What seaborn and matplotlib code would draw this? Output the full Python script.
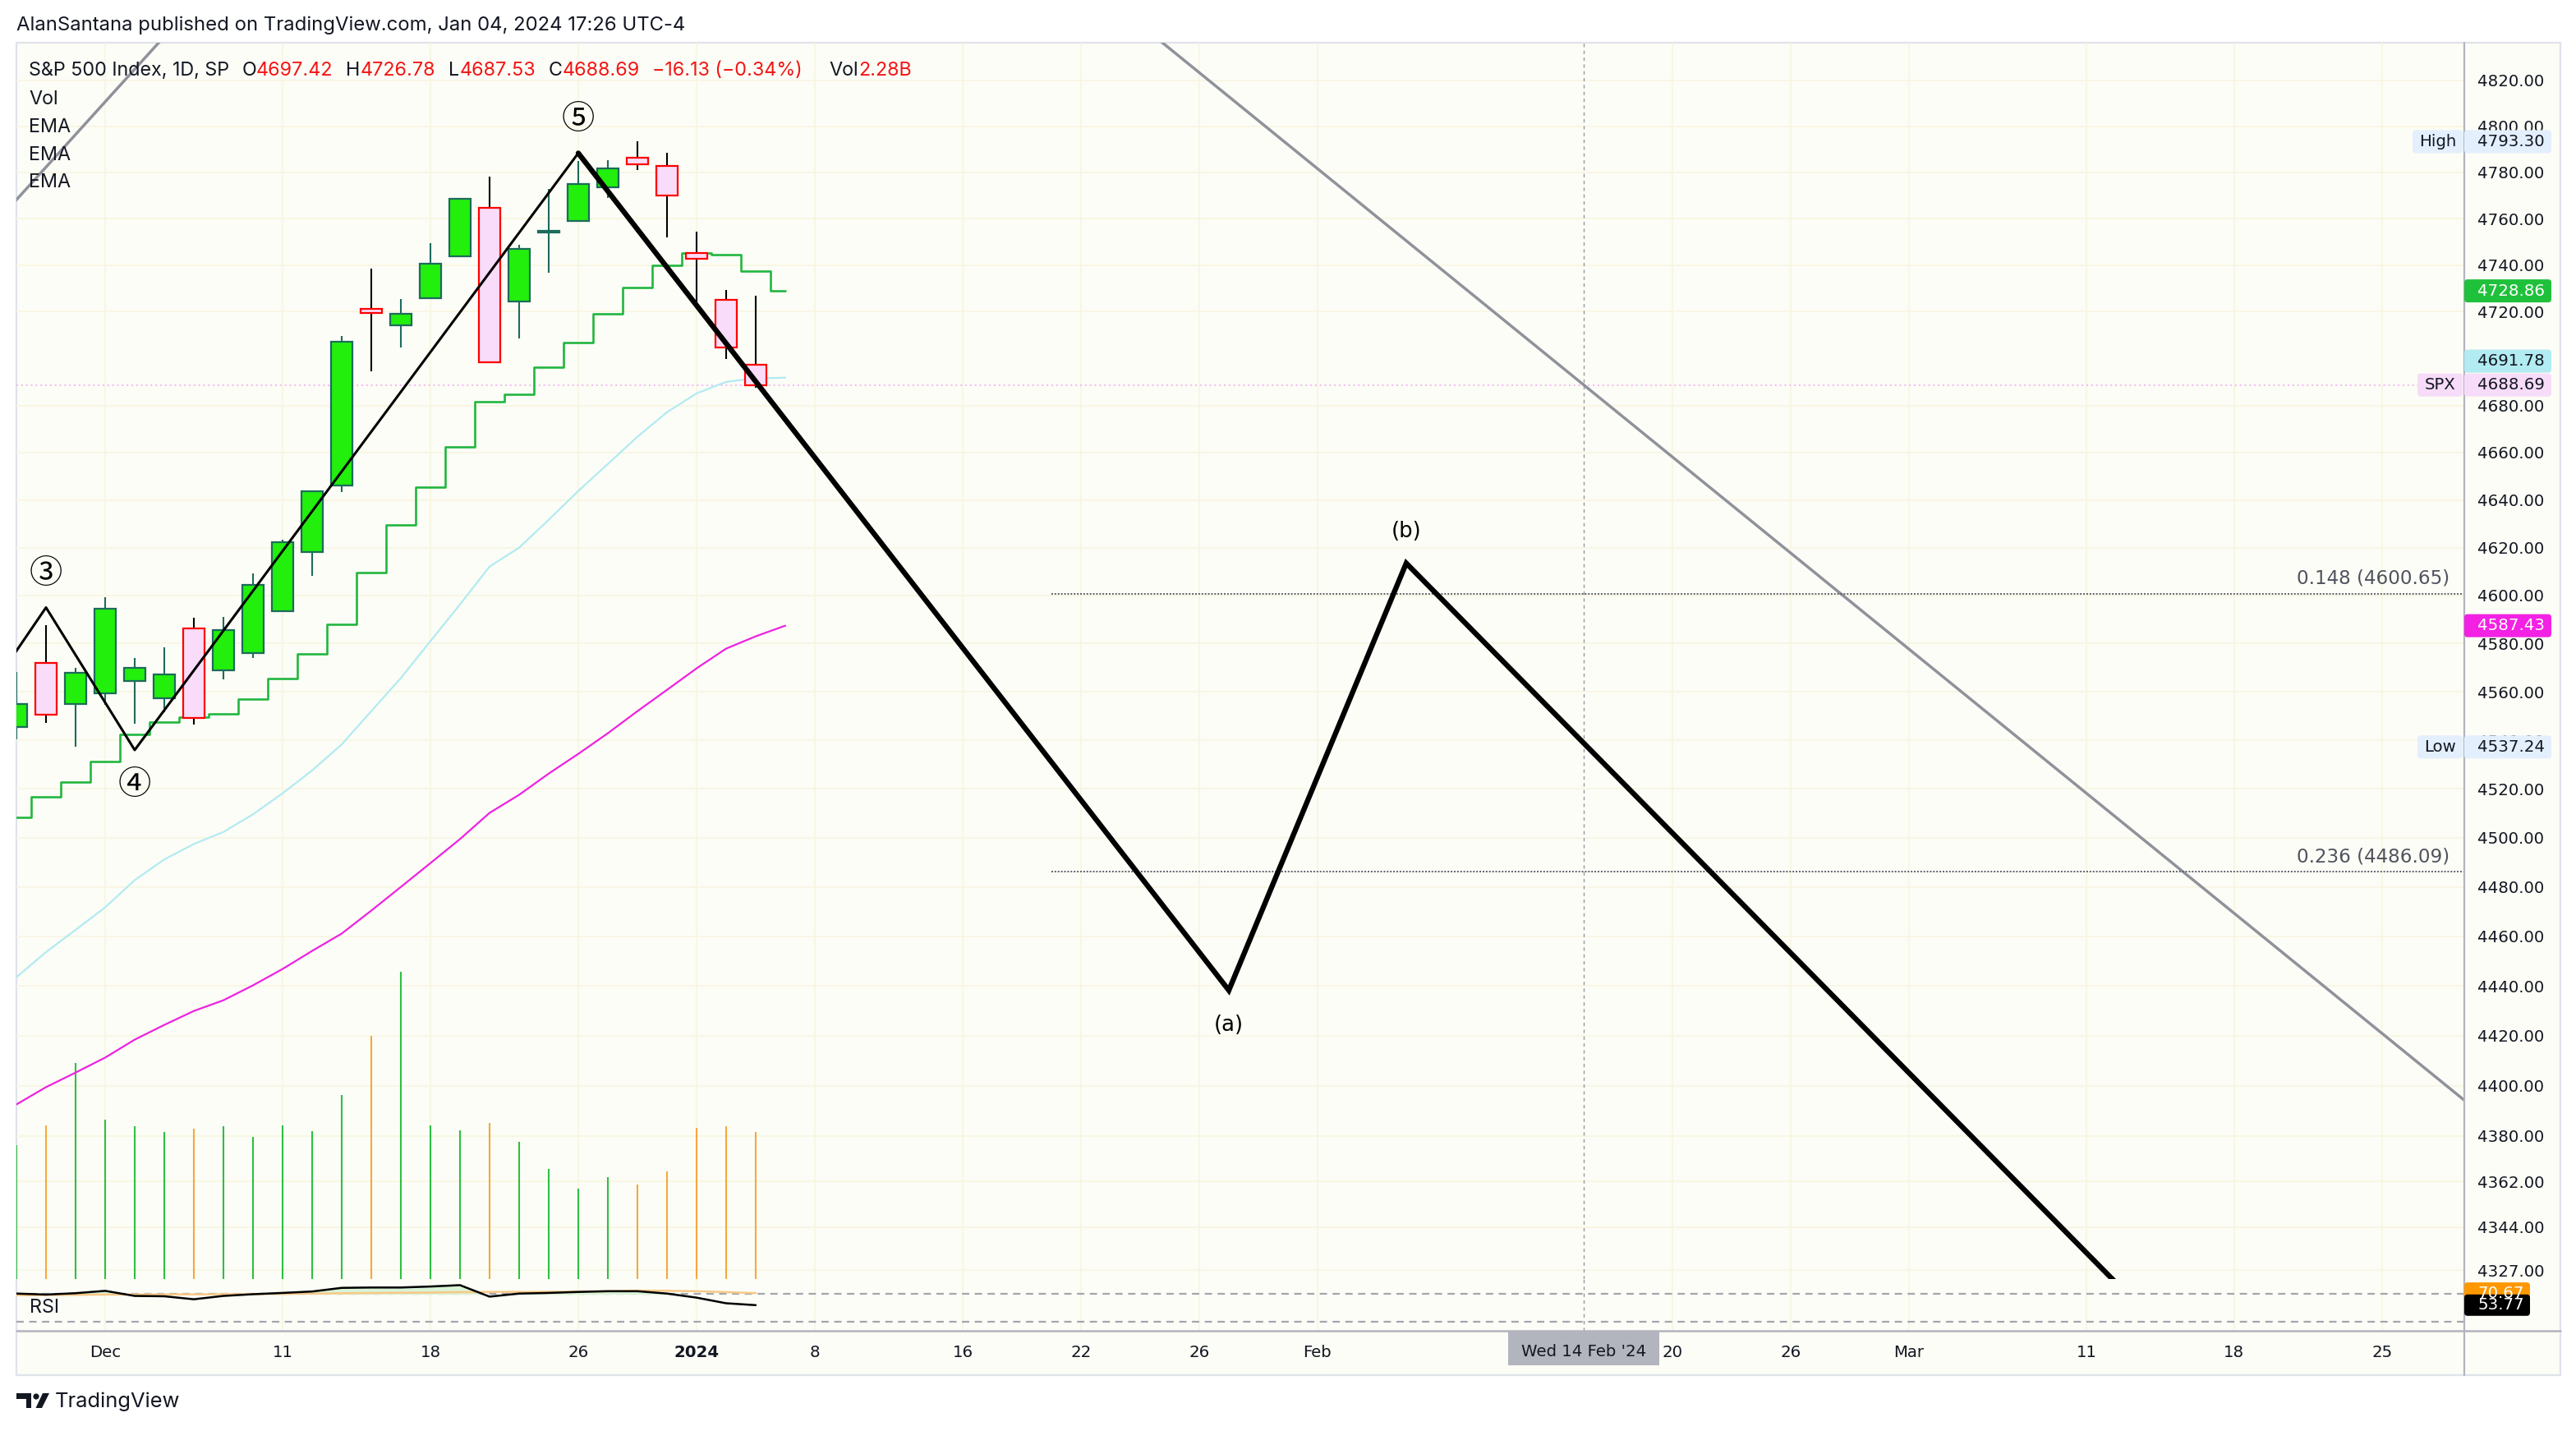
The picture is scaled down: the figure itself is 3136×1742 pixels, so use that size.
import numpy as np
import pandas as pd
import matplotlib
matplotlib.use('Agg')
import matplotlib.pyplot as plt
import matplotlib.transforms as mtrans
from matplotlib.patches import FancyBboxPatch, Rectangle, Polygon, Circle
from matplotlib.ticker import FixedLocator, FuncFormatter, NullLocator
import seaborn as sns

sns.set_style('white')
plt.rcParams['font.family'] = ['DejaVu Sans']

# ---------------- data ----------------
candle_dates = ['2023-11-28', '2023-11-29', '2023-11-30', '2023-12-01', '2023-12-04', '2023-12-05',
                '2023-12-06', '2023-12-07', '2023-12-08', '2023-12-11', '2023-12-12', '2023-12-13',
                '2023-12-14', '2023-12-15', '2023-12-18', '2023-12-19', '2023-12-20', '2023-12-21',
                '2023-12-22', '2023-12-26', '2023-12-27', '2023-12-28', '2023-12-29', '2024-01-02',
                '2024-01-03', '2024-01-04']
opens = [4545.55, 4571.84, 4554.87, 4559.43, 4564.37, 4557.25, 4586.23, 4568.84, 4576.20, 4593.39,
         4618.30, 4646.20, 4721.04, 4714.23, 4725.58, 4743.72, 4764.73, 4724.29, 4753.92, 4758.86,
         4773.45, 4786.44, 4782.88, 4745.20, 4725.07, 4697.42]
highs = [4568.14, 4587.64, 4569.89, 4599.39, 4574.06, 4578.56, 4590.74, 4590.92, 4609.23, 4623.18,
         4643.93, 4709.69, 4738.57, 4725.53, 4749.52, 4768.69, 4778.01, 4748.71, 4772.94, 4784.72,
         4785.39, 4793.30, 4788.43, 4754.33, 4729.29, 4726.78]
lows = [4540.51, 4547.15, 4537.24, 4554.71, 4546.72, 4551.68, 4546.50, 4565.22, 4574.06, 4593.39,
        4608.09, 4643.23, 4694.34, 4704.68, 4725.58, 4743.72, 4697.82, 4708.35, 4736.77, 4758.45,
        4768.90, 4780.98, 4751.99, 4722.67, 4699.71, 4687.53]
closes = [4554.89, 4550.58, 4567.80, 4594.63, 4569.78, 4567.18, 4549.34, 4585.59, 4604.37, 4622.44,
          4643.70, 4707.09, 4719.55, 4719.19, 4740.56, 4768.37, 4698.35, 4746.75, 4754.63, 4774.75,
          4781.58, 4783.35, 4769.83, 4742.83, 4704.81, 4688.69]
# volume in billions
volumes = [2.07, 2.38, 3.35, 2.47, 2.37, 2.28, 2.33, 2.37, 2.20, 2.38, 2.29, 2.85, 3.77, 4.77,
           2.38, 2.31, 2.42, 2.13, 1.71, 1.40, 1.58, 1.46, 1.67, 2.34, 2.37, 2.28]
last_change = -16.13
last_change_pct = -0.34

# EMAs are drawn with a one bar offset, so they carry one extra value (Jan 05)
ema_step = [4508.5, 4516.8, 4522.9, 4531.1, 4542.3, 4547.5, 4549.5, 4551.0, 4557.0, 4565.5,
            4575.6, 4588.0, 4609.6, 4629.4, 4645.6, 4662.6, 4681.6, 4684.8, 4696.1, 4706.6,
            4719.0, 4730.3, 4739.8, 4745.0, 4744.5, 4737.3, 4728.86]
ema_blue = [4443.5, 4453.6, 4462.6, 4471.7, 4482.8, 4491.2, 4497.5, 4502.4, 4509.6, 4518.2,
            4527.6, 4538.3, 4552.0, 4565.7, 4581.0, 4596.3, 4612.1, 4620.0, 4631.7, 4643.8,
            4655.2, 4666.7, 4677.1, 4685.1, 4690.0, 4691.5, 4691.78]
ema_pink = [4392.5, 4399.4, 4405.2, 4411.2, 4418.4, 4424.3, 4429.9, 4434.2, 4440.2, 4446.8,
            4454.1, 4461.1, 4470.4, 4480.0, 4489.7, 4499.5, 4510.2, 4517.6, 4526.3, 4534.4,
            4542.9, 4552.0, 4560.8, 4569.7, 4577.9, 4583.0, 4587.43]

rsi = [70.0, 68.6, 70.5, 73.8, 66.7, 66.2, 62.0, 66.7, 69.1, 70.9, 72.9, 78.0, 78.5, 78.5,
       79.9, 81.8, 65.7, 70.0, 70.9, 72.3, 73.3, 73.3, 70.0, 64.3, 56.4, 53.77]
rsi_ma = [67.7, 67.9, 68.2, 68.6, 68.7, 68.8, 68.9, 69.1, 69.3, 69.6, 70.0, 70.4, 70.8, 71.1,
          71.4, 72.0, 72.3, 72.3, 72.5, 72.8, 73.3, 74.2, 73.9, 73.3, 72.0, 70.67]

# elliott wave drawing
wave_dates = ['2023-11-27', '2023-11-29', '2023-12-04', '2023-12-26']
wave_prices = [4559.0, 4595.0, 4536.0, 4788.3]
wave_labels = ['③', '④', '⑤']
abc_dates = ['2023-12-26', '2024-01-29', '2024-02-06', '2024-03-18']
abc_prices = [4788.3, 4438.2, 4613.5, 4275.3]
abc_labels = ['(a)', '(b)']
# grey trend lines (bar offsets from the last candle, price)
grey_bars = [-26, -5.8, 57.8]
grey_prices = [4754.0, 5047.0, 4394.0]

fib_start = '2024-01-19'
fib_ratios = [0.148, 0.236]
fib_prices = [4600.65, 4486.09]

cross_date = '2024-02-14'

price_ticks = [4820, 4800, 4780, 4760, 4740, 4720, 4680, 4660, 4640, 4620, 4600, 4580, 4560,
               4540, 4520, 4500, 4480, 4460, 4440, 4420, 4400, 4380, 4362, 4344, 4327]
time_tick_dates = ['2023-12-01', '2023-12-11', '2023-12-18', '2023-12-26', '2024-01-02', '2024-01-08',
                   '2024-01-16', '2024-01-22', '2024-01-26', '2024-02-01', '2024-02-20', '2024-02-26',
                   '2024-03-01', '2024-03-11', '2024-03-18', '2024-03-25']
time_tick_labels = ['Dec', '11', '18', '26', '2024', '8', '16', '22', '26', 'Feb', '20', '26',
                    'Mar', '11', '18', '25']
holidays = ['2023-11-23', '2023-12-25', '2024-01-01', '2024-01-15', '2024-02-19', '2024-03-29']

# trading calendar -> bar index (last candle = 0)
cal = pd.bdate_range('2023-11-20', '2024-04-19')
cal = cal[~cal.isin(pd.to_datetime(holidays))]
last_i = list(cal).index(pd.Timestamp(candle_dates[-1]))
bar_of = {d: i - last_i for i, d in enumerate(cal)}


def bar(d):
    return bar_of[pd.Timestamp(d)]


# ---------------- figure ----------------
W, H, DPI = 3136, 1742, 200
fig = plt.figure(figsize=(W / DPI, H / DPI), dpi=DPI, facecolor='white')
PX = mtrans.IdentityTransform()


def fx(x):
    return x / W


def fy(y):
    return 1 - y / H


fig.add_artist(Rectangle((20, H - 1674), 3097, 1622, transform=PX, facecolor='#fcfdf6',
                         edgecolor='#e0e3eb', lw=0.8, zorder=-5))

ax = fig.add_axes([fx(20), fy(1557), fx(3000) - fx(20), fy(52) - fy(1557)])
ax_rsi = fig.add_axes([fx(20), fy(1620), fx(3000) - fx(20), fy(1557) - fy(1620)], sharex=ax)
for a in (ax, ax_rsi):
    a.set_facecolor('none')
    for s in a.spines.values():
        s.set_visible(False)

ax.set_yscale('log')
ax.set_xlim(-25.0, 57.78)
ax.set_ylim(4323.5, 4836.5)
ax.yaxis.set_major_locator(FixedLocator(price_ticks))
ax.yaxis.set_minor_locator(NullLocator())
ax.yaxis.set_major_formatter(FuncFormatter(lambda v, p: f'{v:.2f}'))
ax.yaxis.tick_right()
ax.tick_params(axis='y', which='both', length=0, pad=5.8, labelsize=7.1, labelcolor='#131722')
tick_x = [bar(d) for d in time_tick_dates]
ax.set_xticks(tick_x)
ax.tick_params(axis='x', length=0, labelbottom=False)
ax.grid(True, color='#f8f5e1', lw=0.6)
ax_rsi.set_ylim(17.8, 90.4)
ax_rsi.set_yticks([])
ax_rsi.tick_params(axis='x', length=0, labelbottom=False)
ax_rsi.grid(True, axis='x', color='#f8f5e1', lw=0.6)

x = np.array([bar(d) for d in candle_dates])
o, h, l, c = map(np.array, (opens, highs, lows, closes))
up = c >= o

# volume (drawn in axes fraction at the bottom of the price pane)
VOL_TOP = 19.17
ax.vlines(x, 0, np.array(volumes) / VOL_TOP, transform=ax.get_xaxis_transform(),
          colors=np.where(up, '#2cc043', '#f6a83c'), lw=0.75, zorder=1)

# grey trend lines
ax.plot(np.array(grey_bars), grey_prices, color='#8f929b', lw=1.25, zorder=2)

# emas
ema_x = np.arange(x[0], x[-1] + 2)
sns.lineplot(x=ema_x, y=ema_pink, ax=ax, color='#ee22e2', lw=0.8, zorder=2)
sns.lineplot(x=ema_x, y=ema_blue, ax=ax, color='#b2ebf2', lw=0.8, zorder=2)
sns.lineplot(x=ema_x, y=ema_step, ax=ax, color='#22b640', lw=0.95, drawstyle='steps-mid', zorder=2)

# last price dotted line
ax.axhline(c[-1], color='#f2b8f2', lw=0.7, ls=(0, (1, 2)), zorder=1)

# candles
ax.vlines(x, l, h, colors=np.where(up, '#1d6b5c', '#000000'), lw=0.75, zorder=3)
ax.bar(x, np.abs(c - o), bottom=np.minimum(o, c), width=0.74,
       color=np.where(up, '#22ef0c', '#f9dcf9'), edgecolor=np.where(up, '#1d6b5c', '#ff0000'),
       linewidth=0.8, zorder=4)

# fib levels
x_right = ax.get_xlim()[1]
ax.hlines(fib_prices, bar(fib_start), x_right, colors='#5d606b', lw=0.7, linestyles=(0, (1, 1)), zorder=2)
for r, p in zip(fib_ratios, fib_prices):
    ax.annotate(f'{r} ({p:.2f})', xy=(x_right, p), xytext=(-6.5, 6.8), textcoords='offset points',
                ha='right', va='center', fontsize=8.3, color='#50535e')

# wave drawings
wx = [bar(d) for d in wave_dates]
ax.plot(wx, wave_prices, color='black', lw=1.1, zorder=5)
ax_x = [bar(d) for d in abc_dates]
ax.plot(ax_x, abc_prices, color='black', lw=2.3, zorder=5, solid_joinstyle='miter')
for lab, xx, pp, dy in zip(wave_labels, wx[1:], wave_prices[1:], [14.8, -15.2, 14.6]):
    ax.annotate(lab, xy=(xx, pp), xytext=(0, dy), textcoords='offset points', ha='center', va='center',
                fontsize=14.5, family=['Noto Sans CJK JP', 'DejaVu Sans'], color='black')
for lab, xx, pp, dy in zip(abc_labels, ax_x[1:], abc_prices[1:], [-15.2, 13.8]):
    ax.annotate(lab, xy=(xx, pp), xytext=(0, dy), textcoords='offset points', ha='center', va='center',
                fontsize=9.3, color='black')

# crosshair
cx = bar(cross_date)
for a in (ax, ax_rsi):
    a.axvline(cx, color='#9598a1', lw=0.5, ls=(0, (3, 3)), zorder=1)

# rsi pane
xr = x.astype(float)
r_arr = np.array(rsi)
for lvl in (70, 30):
    ax_rsi.axhline(lvl, color='#a3a6af', lw=0.8, ls=(0, (4, 3)), zorder=1)
ax_rsi.fill_between(xr, r_arr, 70, where=r_arr > 70, interpolate=True, color='#d9f3d6', zorder=1)
sns.lineplot(x=xr, y=rsi_ma, ax=ax_rsi, color='#f8c887', lw=0.9, zorder=2)
sns.lineplot(x=xr, y=rsi, ax=ax_rsi, color='black', lw=0.9, zorder=3)
ax_rsi.set_xlim(-25.0, 57.78)
ax.set_xlabel('')
ax.set_ylabel('')
ax_rsi.set_xlabel('')
ax_rsi.set_ylabel('')

# separators
fig.add_artist(plt.Line2D([3000, 3000], [H - 52, H - 1674], transform=PX, color='#b2b5be', lw=0.8, zorder=6))
fig.add_artist(plt.Line2D([20, 3117], [H - 1620, H - 1620], transform=PX, color='#b2b5be', lw=0.9, zorder=6))

# time axis labels
tx_tr = mtrans.blended_transform_factory(ax_rsi.transData, PX)
for xx, lab in zip(tick_x, time_tick_labels):
    ax_rsi.text(xx, H - 1646, lab, transform=tx_tr, ha='center', va='center', fontsize=7.1,
                color='#131722', fontweight='bold' if lab == '2024' else 'normal', clip_on=False)
cx_px = ax.transData.transform((cx, 4600))[0]
fig.add_artist(Rectangle((cx_px - 92, H - 1662), 184, 41, transform=PX, facecolor='#b2b5be',
                         edgecolor='none', zorder=8))
fig.text(cx_px, H - 1645, pd.Timestamp(cross_date).strftime("%a %d %b '%y"), transform=PX,
         ha='center', va='center', fontsize=7.1, color='#131722', zorder=9)


# price axis tags
def tag(x0, x1, yc, text, fc, tc, hgt=28, ha='left'):
    fig.add_artist(FancyBboxPatch((x0, yc - hgt / 2), x1 - x0, hgt, boxstyle='round,pad=0,rounding_size=4',
                                  transform=PX, facecolor=fc, edgecolor='none', zorder=10))
    tx = 3016 if ha == 'left' else (x0 + x1) / 2
    fig.text(tx, yc, text, transform=PX, ha=ha, va='center', fontsize=7.1, color=tc, zorder=11)


def ypx(p, a=ax):
    return a.transData.transform((0, p))[1]


hi_i = int(np.argmax(h))
lo_i = int(np.argmin(l))
y_spx = ypx(c[-1])
tag(3000, 3106, ypx(h[hi_i]), f'{h[hi_i]:.2f}', '#e3effd', '#131722')
tag(2937, 2998, ypx(h[hi_i]), 'High', '#e3effd', '#131722', ha='center')
tag(3000, 3106, ypx(ema_step[-1]), f'{ema_step[-1]:.2f}', '#1fc13b', 'white')
tag(3000, 3106, max(ypx(ema_blue[-1]), y_spx + 29), f'{ema_blue[-1]:.2f}', '#b2ebf2', '#131722')
tag(3000, 3106, y_spx, f'{c[-1]:.2f}', '#f7dcf9', '#131722')
tag(2943, 2998, y_spx, 'SPX', '#f7dcf9', '#131722', ha='center')
tag(3000, 3106, ypx(ema_pink[-1]), f'{ema_pink[-1]:.2f}', '#f221e3', 'white')
tag(3000, 3106, ypx(l[lo_i]), f'{l[lo_i]:.2f}', '#e3effd', '#131722')
tag(2943, 2998, ypx(l[lo_i]), 'Low', '#e3effd', '#131722', ha='center')
tag(3000, 3080, ypx(rsi_ma[-1], ax_rsi), f'{rsi_ma[-1]:.2f}', '#ff9800', 'white', hgt=26)
tag(3000, 3080, ypx(rsi[-1], ax_rsi), f'{rsi[-1]:.2f}', '#000000', 'white', hgt=26)

# header and legend
fig.text(20, H - 31, 'AlanSantana published on TradingView.com, Jan 04, 2024 17:26 UTC-4', transform=PX,
         ha='left', va='center', fontsize=8.6, color='#131722', family=['Inter', 'DejaVu Sans'])

renderer = fig.canvas.get_renderer()
red = '#f21515'
pieces = [('S&P 500 Index, 1D, SP', '#131722', 0), ('O', '#131722', 15), (f'{o[-1]:.2f}', red, 0),
          ('H', '#131722', 16), (f'{h[-1]:.2f}', red, 0), ('L', '#131722', 16), (f'{l[-1]:.2f}', red, 0),
          ('C', '#131722', 16), (f'{c[-1]:.2f}', red, 0),
          (f'\u2212{abs(last_change):.2f} (\u2212{abs(last_change_pct):.2f}%)', red, 15),
          ('Vol', '#131722', 33), (f'{volumes[-1]:.2f}B', red, 0)]
xpos = 35
for s, col, gap in pieces:
    xpos += gap
    t = fig.text(xpos, H - 86, s, transform=PX, ha='left', va='center', fontsize=8.4, color=col,
                 family=['Inter', 'DejaVu Sans'])
    xpos += t.get_window_extent(renderer=renderer).width
for s, yy in zip(['Vol', 'EMA', 'EMA', 'EMA'], [121, 155, 189, 222]):
    fig.text(35, H - yy, s, transform=PX, ha='left', va='center', fontsize=8.4, color='#131722',
             family=['Inter', 'DejaVu Sans'])
fig.text(36, H - 1592, 'RSI', transform=PX, ha='left', va='center', fontsize=8.4, color='#131722',
         family=['Inter', 'DejaVu Sans'])

# TradingView logo
fig.add_artist(Polygon([(20, H - 1696), (38, H - 1696), (38, H - 1714), (31.5, H - 1714), (31.5, H - 1703),
                        (20, H - 1703)], closed=True, transform=PX, facecolor='#131722', edgecolor='none'))
fig.add_artist(Circle((44, H - 1700), 3.6, transform=PX, facecolor='#131722', edgecolor='none'))
fig.add_artist(Polygon([(52, H - 1696), (60, H - 1696), (51, H - 1714), (43.5, H - 1714)], closed=True,
                       transform=PX, facecolor='#131722', edgecolor='none'))
fig.text(67, H - 1706, 'TradingView', transform=PX, ha='left', va='center', fontsize=9.2, color='#131722',
         family=['Inter', 'DejaVu Sans'])

fig.savefig('out.png', dpi=DPI, facecolor='white')
